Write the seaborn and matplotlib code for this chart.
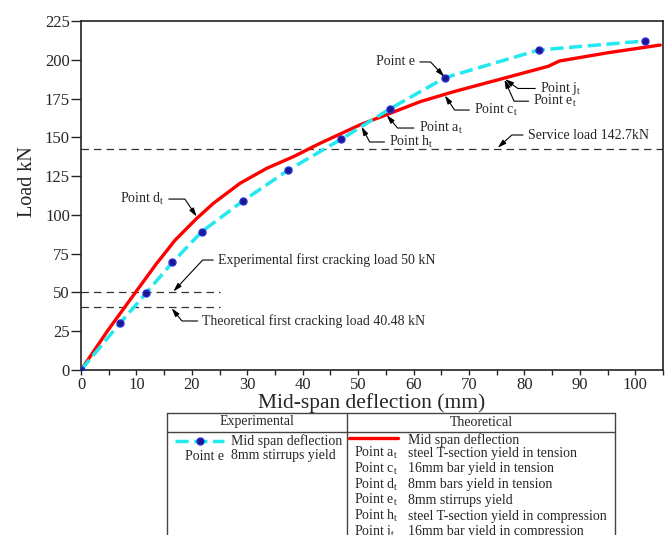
import matplotlib
matplotlib.use('Agg')
import matplotlib.pyplot as plt
from matplotlib.ticker import MultipleLocator
import seaborn as sns

# Experimental mid-span deflection (mm) / load (kN)
exp_defl = [0, 7.0, 11.7, 16.5, 21.8, 29.3, 37.4, 46.9, 55.8, 65.7, 82.6, 101.7]
exp_load = [0, 30.0, 49.4, 69.4, 89.2, 109.2, 128.9, 148.7, 168.5, 188.5, 206.3, 212.1]

# Theoretical curve
theo_defl = [0, 4.9, 9.7, 13.5, 17.0, 20.9, 23.9, 28.7, 33.5, 38.3, 43.1, 50.3, 55.2,
             61.2, 67.2, 76.2, 84.3, 86.3, 95.0, 104.5]
theo_load = [0, 25.8, 49.4, 68.0, 83.8, 97.8, 107.5, 120.4, 130.0, 137.5, 146.1, 158.0, 164.7,
             173.0, 179.4, 188.0, 195.8, 199.2, 204.5, 209.5]

service_load = 142.7
exp_crack = 50
theo_crack = 40.48

exp_rows = [("Point e", "8mm stirrups yield")]
theo_rows = [("a", "steel T-section yield in tension"),
             ("c", "16mm bar yield in tension"),
             ("d", "8mm bars yield in tension"),
             ("e", "8mm stirrups yield"),
             ("h", "steel T-section yield in compression"),
             ("j", "16mm bar yield in compression")]

sns.set_style('ticks')
plt.rcParams['font.family'] = ['Liberation Serif', 'DejaVu Serif']
plt.rcParams['mathtext.fontset'] = 'custom'
plt.rcParams['mathtext.rm'] = 'Liberation Serif'
plt.rcParams['mathtext.it'] = 'Liberation Serif:italic'

CYAN = '#22e8f0'
RED = '#ff0000'

fig = plt.figure(figsize=(6.72, 5.35), dpi=100)

# table drawn in pixel coordinates
tab = fig.add_axes([0, 0, 1, 1])
tab.set_xlim(0, 672)
tab.set_ylim(535, 0)
tab.axis('off')

ax = fig.add_axes([81/672, 1 - 370/535, 582/672, 349/535])
ax.patch.set_alpha(0)

sns.lineplot(x=theo_defl, y=theo_load, ax=ax, color=RED, lw=2.4, sort=False,
             estimator=None, zorder=3)
sns.lineplot(x=exp_defl, y=exp_load, ax=ax, color=CYAN, lw=2.5, sort=False,
             estimator=None, linestyle=(0, (3.8, 1.6)), marker='o', markersize=5,
             markerfacecolor='#1a1a8a', markeredgecolor='#2a2ad8', markeredgewidth=1.0,
             zorder=4)

ax.axhline(service_load, color='#333333', lw=0.9, ls=(0, (6, 4)), zorder=2)
ax.plot([0, 25], [exp_crack, exp_crack], color='#333333', lw=0.9, ls=(0, (6, 4)), zorder=2)
ax.plot([0, 25], [theo_crack, theo_crack], color='#333333', lw=0.9, ls=(0, (6, 4)), zorder=2)

ax.set_xlim(0, 105)
ax.set_ylim(0, 225)
ax.xaxis.set_major_locator(MultipleLocator(10))
ax.xaxis.set_minor_locator(MultipleLocator(5))
ax.yaxis.set_major_locator(MultipleLocator(25))
ax.tick_params(axis='y', which='major', length=7, width=1, direction='out', labelsize=12, pad=1)
ax.tick_params(axis='x', which='both', length=3.5, width=1, direction='out', labelsize=12, pad=1.5)
for s in ax.spines.values():
    s.set_linewidth(1.2)
    s.set_color('#222222')

ax.set_xlabel('Mid-span deflection (mm)', fontsize=15.5)
ax.set_ylabel('Load kN', fontsize=14.5)
ax.xaxis.set_label_coords(0.5, -0.066)
ax.yaxis.set_label_coords(-0.075, 0.54)


def note(txt, xy, xytext, angle, side):
    ha = 'right' if side == 'left' else 'left'
    rel = (1, 0.5) if side == 'left' else (0, 0.5)
    ax.annotate(txt, xy=xy, xytext=xytext, ha=ha, va='center', fontsize=10,
                arrowprops=dict(arrowstyle='-|>,head_length=0.5,head_width=0.15',
                                color='black', lw=0.8, relpos=rel, shrinkA=1, shrinkB=1,
                                connectionstyle=f'angle,angleA=0,angleB={angle},rad=0'),
                zorder=6)


note('Point e', (65.7, 188.5), (60.3, 198.6), 133, 'left')
note('Point j$_\\mathrm{t}$', (76.3, 188.0), (82.8, 181.5), -36, 'right')
note('Point e$_\\mathrm{t}$', (76.3, 188.0), (81.6, 173.3), -66, 'right')
note('Point c$_\\mathrm{t}$', (65.5, 177.7), (70.9, 167.6), -56, 'right')
note('Point a$_\\mathrm{t}$', (55.0, 165.0), (60.9, 156.0), -50, 'right')
note('Point h$_\\mathrm{t}$', (50.5, 157.6), (55.6, 147.0), -62, 'right')
note('Service load 142.7kN', (75.0, service_load), (80.6, 151.5), 42, 'right')
note('Point d$_\\mathrm{t}$', (21.0, 98.2), (15.0, 110.2), 124, 'left')
note('Experimental first cracking load 50 kN', (16.5, exp_crack), (24.7, 70.9), 47, 'right')
note('Theoretical first cracking load 40.48 kN', (16.2, theo_crack), (21.9, 31.6), -51, 'right')

# table
lc = '#444444'
L, R, T, H, M = 167, 615, 413, 432, 347
tab.plot([L, R], [T, T], color=lc, lw=1)
tab.plot([L, R], [H, H], color=lc, lw=1)
tab.plot([L, L], [T, 540], color=lc, lw=1)
tab.plot([R, R], [T, 540], color=lc, lw=1)
tab.plot([M, M], [T, 540], color=lc, lw=1)
tab.text((L + M) / 2, 422, 'Experimental', ha='center', va='center', fontsize=10)
tab.text((M + R) / 2, 422, 'Theoretical', ha='center', va='center', fontsize=10)

tab.plot([175, 224], [441, 441], color=CYAN, lw=2.5, ls=(0, (3.8, 1.6)))
tab.plot([199.5], [441], 'o', ms=5, mfc='#1a1a8a', mec='#2a2ad8', mew=1.0)
tab.text(231, 441, 'Mid span deflection', ha='left', va='center', fontsize=10)
for i, (p, d) in enumerate(exp_rows):
    tab.text(185, 456 + 16 * i, p, ha='left', va='center', fontsize=10)
    tab.text(231, 456 + 16 * i, d, ha='left', va='center', fontsize=10)

tab.plot([349, 398], [438, 438], color=RED, lw=2.4)
tab.text(408, 440, 'Mid span deflection', ha='left', va='center', fontsize=10)
for i, (p, d) in enumerate(theo_rows):
    y = 453 + 15.8 * i
    tab.text(354, y, f'Point {p}$_\\mathrm{{t}}$', ha='left', va='center', fontsize=10)
    tab.text(408, y, d, ha='left', va='center', fontsize=10)

fig.savefig('out.png', dpi=100)
